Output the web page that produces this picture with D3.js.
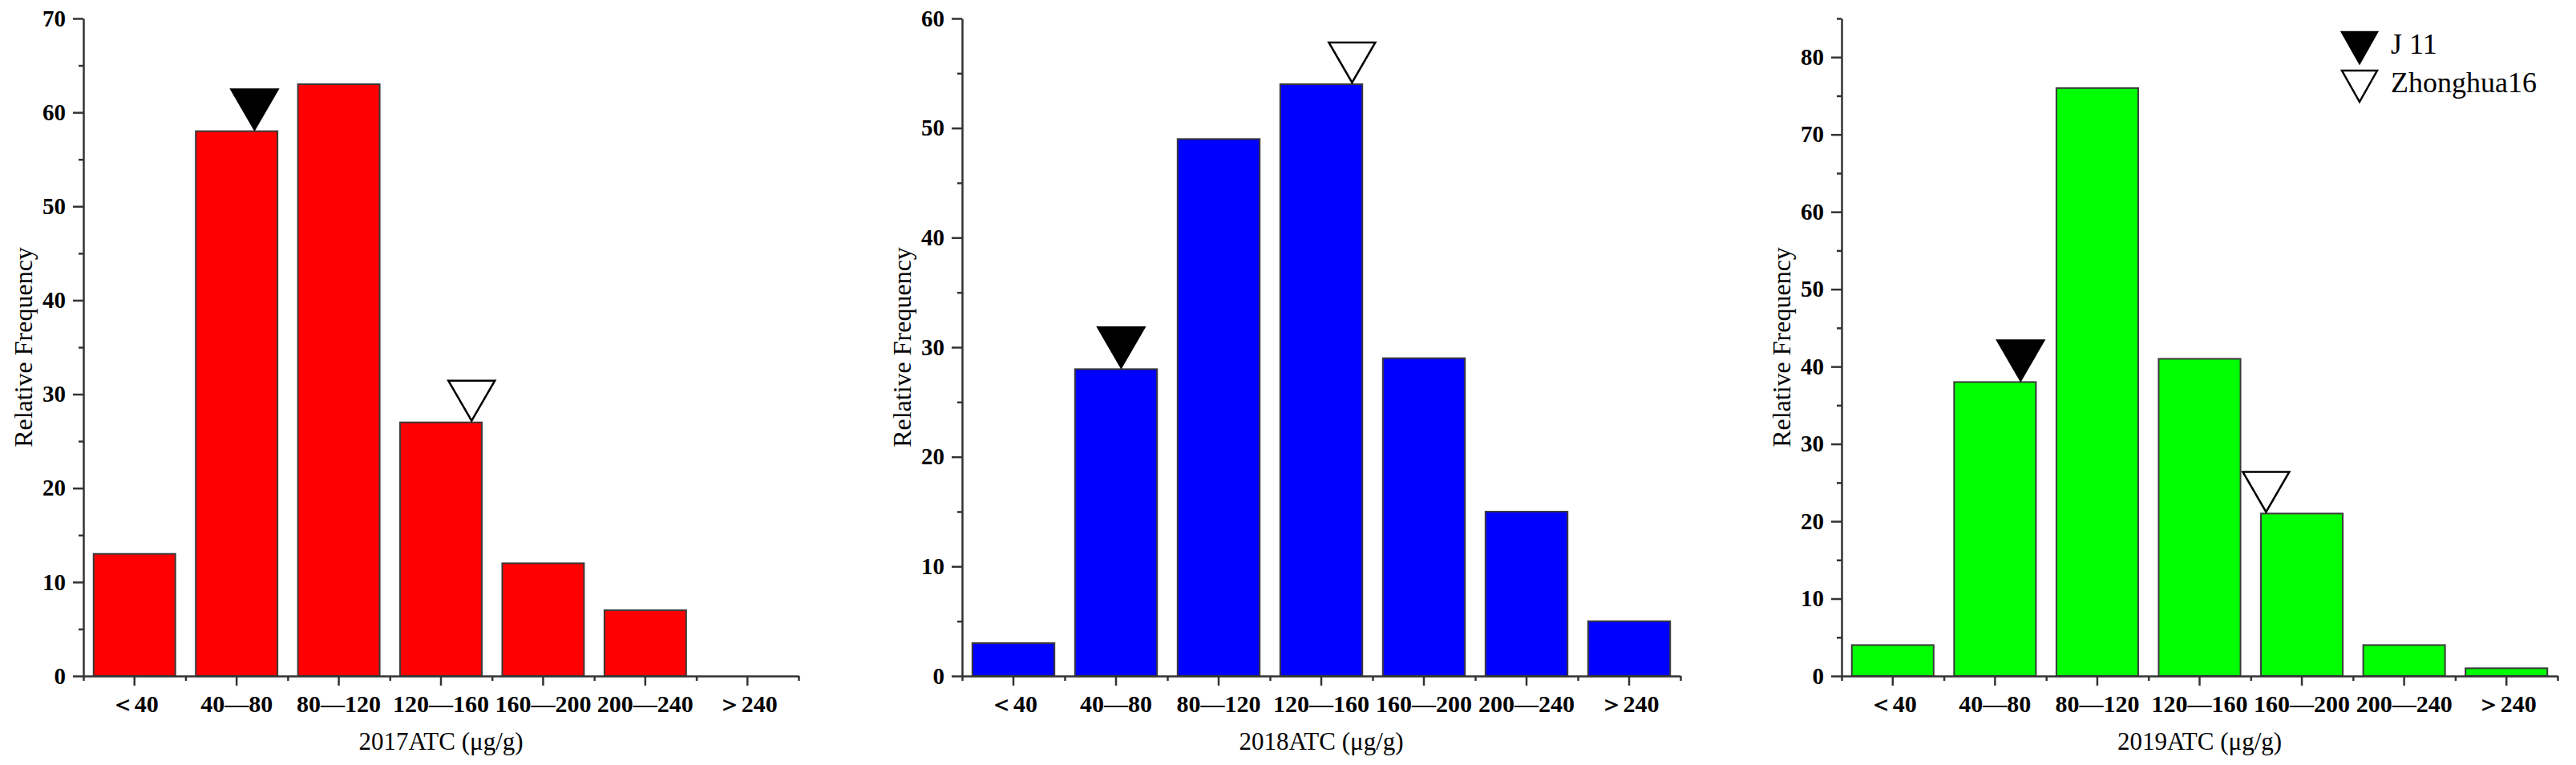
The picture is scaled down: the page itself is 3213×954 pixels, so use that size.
<!DOCTYPE html>
<html>
<head>
<meta charset="utf-8">
<script src="https://cdn.jsdelivr.net/npm/d3@7/dist/d3.min.js"></script>
<style>
	body { margin: 0; background: #fff; }
	text { font-family: "Liberation Serif", "Times New Roman", serif; fill: #000; }
	.axis path, .axis line { stroke: #333; stroke-width: 2.5; }
	.ticklabel text { font-weight: bold; }
</style>
</head>
<body>
<div id="atcchart"></div>
<script>
// ATC bins (µg/g) and counts per year
var categories = ["＜40", "40—80", "80—120", "120—160", "160—200", "200—240", "＞240"];
var binEdges = [0, 40, 80, 120, 160, 200, 240, 280];
var years = ["2017", "2018", "2019"];
var freq2017 = [13, 58, 63, 27, 12, 7, 0];
var freq2018 = [3, 28, 49, 54, 29, 15, 5];
var freq2019 = [4, 38, 76, 41, 21, 4, 1];
var yMaxes = [70, 60, 85];
// ATC of the two check varieties in each year
var j11ATC = [67, 62, 70];
var zh16ATC = [152, 152, 166];
var legendNames = ["J 11", "Zhonghua16"];

var barColors = ["#ff0000", "#0000ff", "#00ff00"];

var width = 3213,
    height = 954;
var top_ = 23, bottom_ = 843;
var serif = "Liberation Serif, Times New Roman, serif";
var panels = [
	{left: 104, right: 996},
	{left: 1200, right: 2096},
	{left: 2297, right: 3190}
];

var svg = d3.select("#atcchart")
	.append("svg")
	.attr("width", width)
	.attr("height", height);

var allFreq = [freq2017, freq2018, freq2019];

function drawPanel(k) {
	var p = panels[k];
	var freq = allFreq[k];
	var w = p.right - p.left;
	var g = svg.append("g")
		.attr("transform", "translate(" + p.left + ",0)");

	var x = d3.scaleBand()
		.domain(categories)
		.range([0, w])
		.padding(0);
	var xEdge = d3.scaleLinear()
		.domain([0, 280])
		.range([0, w]);
	var y = d3.scaleLinear()
		.domain([0, yMaxes[k]])
		.range([bottom_, top_]);

	var bw = x.bandwidth() * 0.8;

	// bars
	g.append("g")
		.selectAll("rect")
		.data(freq)
		.enter()
		.append("rect")
		.attr("x", function(d, i) { return x(categories[i]) + (x.bandwidth() - bw) / 2; })
		.attr("y", function(d) { return y(d); })
		.attr("width", bw)
		.attr("height", function(d) { return bottom_ - y(d); })
		.style("fill", barColors[k])
		.style("stroke", function(d) { return d > 0 ? "#3a3a3a" : "none"; })
		.attr("stroke-width", 2);

	// minor ticks, y
	g.append("g")
		.attr("class", "axis")
		.call(d3.axisLeft(y)
			.tickValues(d3.range(5, yMaxes[k] + 1, 10))
			.tickSize(6)
			.tickFormat(""))
		.select(".domain").remove();
	// major ticks, y
	g.append("g")
		.attr("class", "axis ticklabel")
		.call(d3.axisLeft(y)
			.tickValues(d3.range(0, yMaxes[k] + 1, 10))
			.tickSize(13)
			.tickSizeOuter(0)
			.tickPadding(9))
		.attr("font-family", serif)
		.attr("font-size", 29);

	// minor ticks on bin edges, x
	g.append("g")
		.attr("class", "axis")
		.attr("transform", "translate(0," + bottom_ + ")")
		.call(d3.axisBottom(xEdge)
			.tickValues(binEdges)
			.tickSize(6)
			.tickFormat(""))
		.select(".domain").remove();
	// major ticks at bin centres, x
	g.append("g")
		.attr("class", "axis ticklabel")
		.attr("transform", "translate(0," + bottom_ + ")")
		.call(d3.axisBottom(x)
			.tickSize(12)
			.tickSizeOuter(0)
			.tickPadding(12))
		.attr("font-family", serif)
		.attr("font-size", 30);

	// axis titles
	g.append("text")
		.attr("x", w / 2)
		.attr("y", 935)
		.style("text-anchor", "middle")
		.attr("font-size", 31)
		.text(years[k] + "ATC (μg/g)");
	g.append("text")
		.attr("transform", "translate(-75," + ((top_ + bottom_) / 2) + ") rotate(-90)")
		.style("text-anchor", "middle")
		.attr("dy", "0.35em")
		.attr("font-size", 32)
		.text("Relative Frequency");

	// variety markers, tip on top of the bar holding them
	var marks = [
		{atc: j11ATC[k], fill: "#000"},
		{atc: zh16ATC[k], fill: "#fff"}
	];
	g.append("g")
		.selectAll("path")
		.data(marks)
		.enter()
		.append("path")
		.attr("d", "M-29,-50L29,-50L0,0Z")
		.attr("transform", function(d) {
			var bin = Math.floor(d.atc / 40);
			return "translate(" + xEdge(d.atc) + "," + (y(freq[bin]) - 2) + ")";
		})
		.style("fill", function(d) { return d.fill; })
		.style("stroke", "#000")
		.attr("stroke-width", 2.5)
		.attr("stroke-linejoin", "miter");
}

for (var k = 0; k < 3; k++) {
	drawPanel(k);
}

// legend in last panel
var legend = svg.append("g")
	.attr("transform", "translate(2943,0)");
var legendFill = ["#000", "#fff"];
var lg = legend.selectAll("g")
	.data(legendNames)
	.enter()
	.append("g")
	.attr("transform", function(d, i) { return "translate(0," + (40 + i * 48) + ")"; });
lg.append("path")
	.attr("d", "M-22,0L22,0L0,39Z")
	.style("fill", function(d, i) { return legendFill[i]; })
	.style("stroke", "#000")
	.attr("stroke-width", 2.5);
lg.append("text")
	.attr("x", 39)
	.attr("y", 27)
	.attr("font-size", 36)
	.text(function(d) { return d; });
</script>
</body>
</html>
